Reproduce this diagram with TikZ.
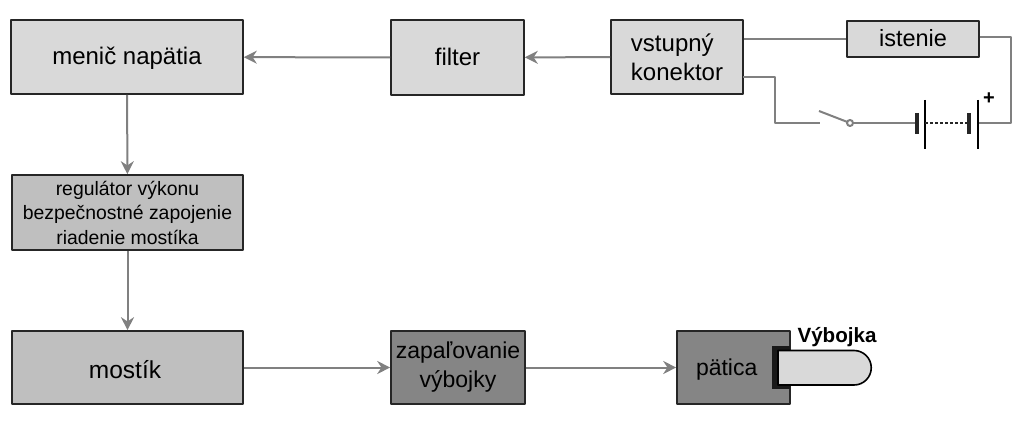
\documentclass[tikz,border=0pt]{standalone}
\usepackage{fontspec}
\setmainfont{Liberation Sans}
\usetikzlibrary{arrows.meta}
\definecolor{spoj}{gray}{0.5}
\definecolor{svetla}{gray}{0.85}
\definecolor{stredna}{gray}{0.75}
\definecolor{tmava}{gray}{0.52}
\tikzset{
  blok/.style={draw=black!85, line width=1.6pt, align=center, inner sep=0pt, font=\fontsize{24}{29}\selectfont},
  riadok/.style={text height=20pt, text depth=4pt},
  spojka/.style={draw=spoj, line width=2pt},
  sipka/.style={spojka, -{Stealth[length=13pt,width=13pt]}},
}
\begin{document}
\begin{tikzpicture}[x=1pt, y=-1pt, line join=round]
\useasboundingbox (0,0) rectangle (1024,427);
% Bloky
\node[blok, riadok, fill=svetla, minimum width=232pt, minimum height=74pt] (menic) at (127,57) {menič napätia};
\node[blok, riadok, fill=svetla, minimum width=133pt, minimum height=75pt] (filter) at (457.5,57.5) {filter};
\node[blok, fill=svetla, minimum width=132pt, minimum height=74pt, align=left] (konektor) at (677,57) {vstupný\\konektor};
\node[blok, riadok, fill=svetla, minimum width=132pt, minimum height=36pt, font=\fontsize{23.5}{25}\selectfont] (istenie) at (913,39) {istenie};
\node[blok, fill=stredna, minimum width=231pt, minimum height=75pt, font=\fontsize{19.4}{24.5}\selectfont] (regulator) at (127.5,212.5) {regulátor výkonu\\bezpečnostné zapojenie\\riadenie mostíka};
\node[blok, riadok, fill=stredna, minimum width=231pt, minimum height=73pt, font=\fontsize{24.5}{27}\selectfont] (mostik) at (127.5,367.5) {\hspace*{-5pt}\raisebox{-3pt}{mostík}};
\node[blok, fill=tmava, minimum width=134pt, minimum height=73pt, font=\fontsize{23}{29}\selectfont] (zapal) at (458,367.5) {\raisebox{-2pt}{zapaľovanie}\\\raisebox{-2pt}{výbojky}};
\node[blok, riadok, fill=tmava, minimum width=113pt, minimum height=73pt, text=black, font=\fontsize{23}{27}\selectfont, text width=113pt, align=left] (patica) at (733.5,367.5) {\hspace*{19pt}pätica};
% Vybojka
\fill[black!90] (772,346) rectangle (790,389);
\draw[fill=svetla, line width=1.6pt] (778,350.5) -- (854,350.5) arc[start angle=-90, end angle=90, radius=17.25] -- (778,385) -- cycle;
\node[font=\bfseries\fontsize{20.6}{24}\selectfont] (vybojka) at (837,337) {Výbojka};
% Sipky
\draw[sipka] (konektor) -- (filter);
\draw[sipka] (filter) -- (menic);
\draw[sipka] (menic) -- (regulator);
\draw[sipka] (regulator) -- (mostik);
\draw[sipka] (mostik) -- (zapal);
\draw[sipka] (zapal) -- (patica);
% Spinac a baterie
\coordinate (S1) at (820,123);
\coordinate (S2) at (850,123);
\coordinate (B1) at (916,123);
\coordinate (B2) at (925,123);
\coordinate (B3) at (969,123);
\coordinate (B4) at (978,123);
\draw[spojka] (konektor.east |- istenie.west) -- (istenie.west);
\draw[spojka] (743,77) -| (775,123) -- (S1);
\draw[spojka] (819,111) -- (S2);
\draw[spojka, fill=white] (S2) circle(3);
\draw[spojka] (853,123) -- (B1);
\draw[spojka] (istenie.east |- 0,37) -| (1011,123) -- (B4);
\draw[line width=3.5pt, black!85] (917,113) -- (917,134);
\draw[line width=1.6pt] (925,100) -- (925,149);
\draw[line width=2pt, dash pattern=on 3pt off 2pt, black!85] (B2) -- (B3);
\draw[line width=3.5pt, black!85] (969,113) -- (969,134);
\draw[line width=1.6pt] (978,100) -- (978,149);
\node[font=\bfseries\fontsize{20}{24}\selectfont] (plus) at (989,99) {+};
\end{tikzpicture}
\end{document}
